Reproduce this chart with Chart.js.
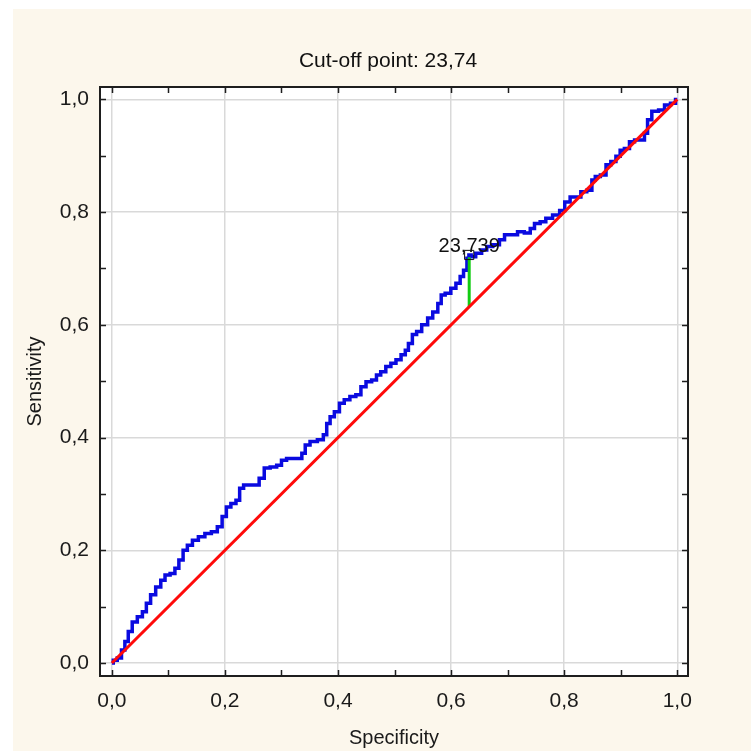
<!DOCTYPE html>
<html>
<head>
<meta charset="utf-8">
<title>Cut-off point</title>
<script src="https://cdn.jsdelivr.net/npm/chart.js@4.4.0/dist/chart.umd.min.js"></script>
<style>
  body { margin: 0; background: #ffffff; }
  canvas { display: block; }
</style>
</head>
<body>
<canvas id="rocChart" width="751" height="751"></canvas>
<script>
// Дані ROC-кривої
var specificity = [0, 0.005, 0.014, 0.02, 0.026, 0.032, 0.04, 0.05, 0.058, 0.064, 0.073, 0.082, 0.091, 0.097,
  0.109, 0.114, 0.123, 0.129, 0.138, 0.147, 0.159, 0.17, 0.182, 0.191, 0.199, 0.206, 0.215, 0.224, 0.228,
  0.238, 0.256, 0.265, 0.274, 0.286, 0.297, 0.303, 0.315, 0.333, 0.339, 0.345, 0.356, 0.371, 0.377, 0.383,
  0.389, 0.398, 0.407, 0.415, 0.427, 0.436, 0.445, 0.454, 0.465, 0.471, 0.48, 0.489, 0.498, 0.507, 0.516,
  0.522, 0.527, 0.536, 0.542, 0.554, 0.563, 0.572, 0.581, 0.584, 0.595, 0.604, 0.613, 0.619, 0.625, 0.631,
  0.632, 0.639, 0.648, 0.66, 0.666, 0.681, 0.69, 0.699, 0.713, 0.722, 0.737, 0.743, 0.752, 0.763, 0.772,
  0.787, 0.797, 0.805, 0.816, 0.825, 0.834, 0.846, 0.852, 0.858, 0.87, 0.878, 0.887, 0.896, 0.902, 0.911,
  0.92, 0.929, 0.938, 0.946, 0.949, 0.961, 0.973, 0.982, 0.994, 1];
var sensitivity = [0, 0.005, 0.009, 0.023, 0.038, 0.056, 0.073, 0.082, 0.091, 0.106, 0.121, 0.135, 0.147, 0.156,
  0.159, 0.168, 0.183, 0.2, 0.209, 0.218, 0.224, 0.23, 0.233, 0.242, 0.26, 0.277, 0.283, 0.289, 0.31,
  0.316, 0.316, 0.328, 0.346, 0.348, 0.351, 0.36, 0.363, 0.363, 0.372, 0.387, 0.393, 0.396, 0.405, 0.425,
  0.437, 0.446, 0.461, 0.467, 0.473, 0.476, 0.49, 0.499, 0.502, 0.511, 0.517, 0.526, 0.532, 0.538, 0.547,
  0.555, 0.567, 0.583, 0.588, 0.6, 0.612, 0.623, 0.638, 0.653, 0.656, 0.665, 0.674, 0.686, 0.697, 0.718,
  0.724, 0.721, 0.727, 0.733, 0.739, 0.742, 0.751, 0.76, 0.76, 0.765, 0.763, 0.771, 0.78, 0.783, 0.789,
  0.795, 0.803, 0.818, 0.827, 0.827, 0.836, 0.839, 0.857, 0.863, 0.866, 0.884, 0.89, 0.899, 0.91, 0.913,
  0.925, 0.928, 0.928, 0.94, 0.964, 0.979, 0.981, 0.99, 0.993, 1];

// Діагональ та лінія точки відсікання
var diagonalX = [0, 1];
var diagonalY = [0, 1];
var cutoffLineX = [0.632, 0.632];
var cutoffLineY = [0.632, 0.72];
var cutoffPointX = [0.632];
var cutoffPointY = [0.724];
var cutoffLabel = '23,739';
var chartTitle = 'Cut-off point: 23,74';

// Поділки осей
var tickValues = [0, 0.2, 0.4, 0.6, 0.8, 1.0];
var minorTickValues = [0, 0.1, 0.2, 0.3, 0.4, 0.5, 0.6, 0.7, 0.8, 0.9, 1.0];

function toPoints(xs, ys) {
  return xs.map(function(x, i) { return { x: x, y: ys[i] }; });
}

function formatTick(value) {
  return value.toFixed(1).replace('.', ',');
}

var fontFamily = '"Liberation Sans", Arial, sans-serif';
Chart.defaults.font.family = fontFamily;

// Фон, рамка, внутрішні поділки, заголовок і підпис
var framePlugin = {
  id: 'frame',
  beforeDraw: function(chart) {
    var ctx = chart.ctx;
    var area = chart.chartArea;
    ctx.save();
    ctx.fillStyle = '#ffffff';
    ctx.fillRect(0, 0, chart.width, chart.height);
    ctx.fillStyle = '#fcf7ec';
    ctx.fillRect(13, 9, chart.width - 13, chart.height - 9);
    ctx.fillStyle = '#ffffff';
    ctx.fillRect(area.left, area.top, area.right - area.left, area.bottom - area.top);
    ctx.restore();
  },
  afterDraw: function(chart) {
    var ctx = chart.ctx;
    var area = chart.chartArea;
    var xs = chart.scales.x;
    var ys = chart.scales.y;
    ctx.save();

    // рамка
    ctx.strokeStyle = '#1e1e1e';
    ctx.lineWidth = 2;
    ctx.strokeRect(area.left, area.top, area.right - area.left, area.bottom - area.top);

    // поділки всередину
    ctx.lineWidth = 1.5;
    ctx.beginPath();
    minorTickValues.forEach(function(v) {
      var px = Math.round(xs.getPixelForValue(v)) + 0.5;
      ctx.moveTo(px, area.bottom); ctx.lineTo(px, area.bottom - 6);
      ctx.moveTo(px, area.top); ctx.lineTo(px, area.top + 6);
      var py = Math.round(ys.getPixelForValue(v)) + 0.5;
      ctx.moveTo(area.left, py); ctx.lineTo(area.left + 6, py);
      ctx.moveTo(area.right, py); ctx.lineTo(area.right - 6, py);
    });
    ctx.stroke();

    // заголовок
    ctx.fillStyle = '#111111';
    ctx.font = '21px ' + fontFamily;
    ctx.textAlign = 'center';
    ctx.textBaseline = 'middle';
    ctx.fillText(chartTitle, 388, 61);

    // підпис точки відсікання
    var mx = xs.getPixelForValue(cutoffPointX[0]);
    var my = ys.getPixelForValue(cutoffPointY[0]);
    ctx.font = '20px ' + fontFamily;
    ctx.textBaseline = 'alphabetic';
    ctx.fillText(cutoffLabel, mx, my - 3);
    ctx.restore();
  }
};

var data = {
  datasets: [
    {
      label: 'cutoff point',
      data: toPoints(cutoffPointX, cutoffPointY),
      showLine: false,
      pointStyle: 'rect',
      pointRadius: 6.5,
      borderColor: '#111111',
      borderWidth: 1,
      backgroundColor: 'rgba(0,0,0,0)'
    },
    {
      label: 'diagonal',
      data: toPoints(diagonalX, diagonalY),
      showLine: true,
      borderColor: '#ff0a0a',
      borderWidth: 3,
      pointRadius: 0
    },
    {
      label: 'cutoff line',
      data: toPoints(cutoffLineX, cutoffLineY),
      showLine: true,
      borderColor: '#12cc12',
      borderWidth: 3,
      pointRadius: 0
    },
    {
      label: 'ROC',
      data: toPoints(specificity, sensitivity),
      showLine: true,
      stepped: 'middle',
      borderColor: '#0a0ae0',
      borderWidth: 3.5,
      pointRadius: 0
    }
  ]
};

var options = {
  responsive: false,
  animation: false,
  layout: { padding: { left: 13, top: 87, right: 63, bottom: 0 } },
  plugins: {
    legend: { display: false },
    tooltip: { enabled: false }
  },
  scales: {
    x: {
      type: 'linear',
      min: -0.021,
      max: 1.019,
      afterBuildTicks: function(axis) {
        axis.ticks = tickValues.map(function(v) { return { value: v }; });
      },
      afterFit: function(scale) { scale.height = 75; },
      grid: { color: '#d9d9d9', lineWidth: 1.5, drawTicks: false },
      border: { display: false },
      ticks: {
        padding: 13,
        color: '#1a1a1a',
        font: { size: 21 },
        maxRotation: 0,
        callback: formatTick
      },
      title: {
        display: true,
        text: 'Specificity',
        color: '#1a1a1a',
        font: { size: 20 },
        padding: { top: 4, bottom: 1 }
      }
    },
    y: {
      type: 'linear',
      min: -0.023,
      max: 1.022,
      afterBuildTicks: function(axis) {
        axis.ticks = tickValues.map(function(v) { return { value: v }; });
      },
      afterFit: function(scale) { scale.width = 87; },
      grid: { color: '#d9d9d9', lineWidth: 1.5, drawTicks: false },
      border: { display: false },
      ticks: {
        padding: 11,
        color: '#1a1a1a',
        font: { size: 21 },
        callback: formatTick
      },
      title: {
        display: true,
        text: 'Sensitivity',
        color: '#1a1a1a',
        font: { size: 20 },
        padding: { top: 10, bottom: 0 }
      }
    }
  }
};

var ctx = document.getElementById('rocChart').getContext('2d');
var rocChart = new Chart(ctx, {
  type: 'scatter',
  data: data,
  options: options,
  plugins: [framePlugin]
});
</script>
</body>
</html>
